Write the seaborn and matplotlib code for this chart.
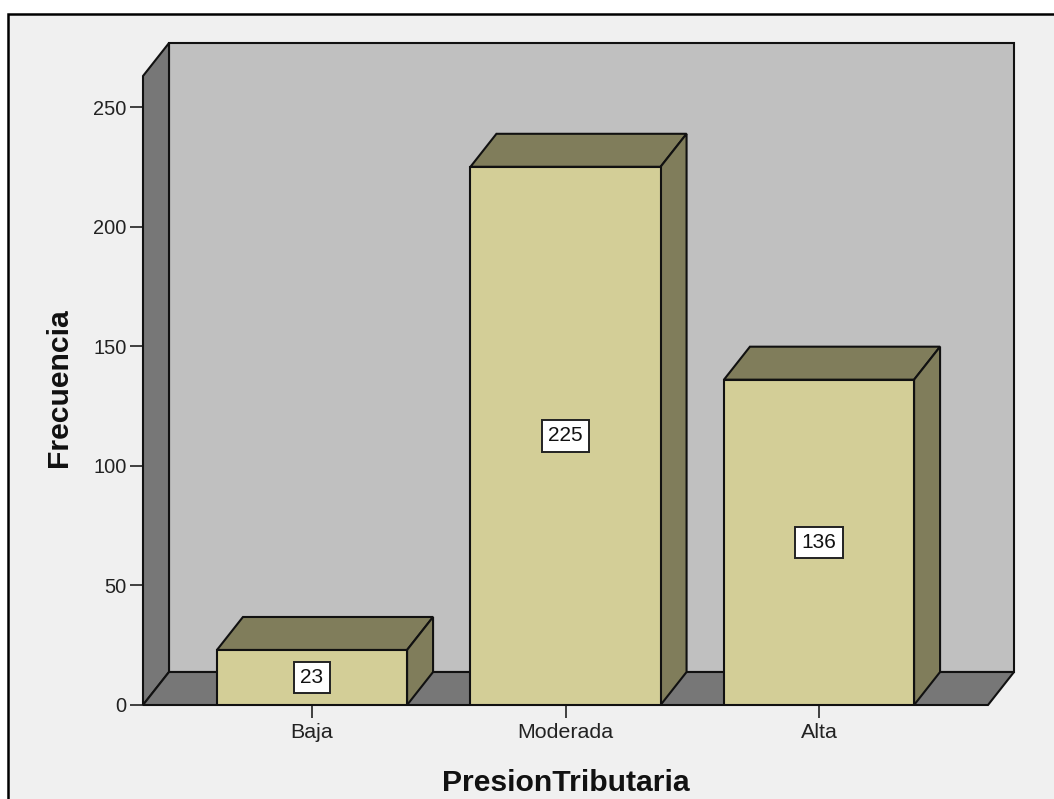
import matplotlib
matplotlib.use("Agg")
import matplotlib.pyplot as plt
from matplotlib.patches import Polygon, Rectangle
import pandas as pd
import seaborn as sns

categories = ["Baja", "Moderada", "Alta"]
frecuencia = [23, 225, 136]
y_ticks = [0, 50, 100, 150, 200, 250]

W, H = 1054, 799
LEFT, RIGHT, TOP, BASE = 143, 988, 76, 705
PX_PER_CAT = 253.5
PX_PER_UNIT = 598 / 250
DX = 26 / PX_PER_CAT
DY = 33 / PX_PER_UNIT
EDGE = "#111111"
LW = 1.5

sns.set_theme(style="white", font="Liberation Sans")
fig = plt.figure(figsize=(W / 100, H / 100), dpi=100, facecolor="white")
fig.add_artist(Rectangle((8 / W, 1 - 830 / H), 1060 / W, 816 / H, transform=fig.transFigure,
                         facecolor="#f0f0f0", edgecolor="black", linewidth=1.8, zorder=-1))
ax = fig.add_axes([LEFT / W, 1 - BASE / H, (RIGHT - LEFT) / W, (BASE - TOP) / H])
ax.patch.set_alpha(0)

df = pd.DataFrame({"PresionTributaria": categories, "Frecuencia": frecuencia})
sns.barplot(data=df, x="PresionTributaria", y="Frecuencia", ax=ax, width=0.75,
            color="#d3ce97", saturation=1, edgecolor=EDGE, linewidth=LW, zorder=5)

x0 = (312 - LEFT) / PX_PER_CAT
xmin, xmax = -x0, -x0 + (RIGHT - LEFT) / PX_PER_CAT
ymax = (BASE - TOP) / PX_PER_UNIT
ax.set_xlim(xmin, xmax)
ax.set_ylim(0, ymax)


def poly(pts, color, z):
    ax.add_patch(Polygon(pts, closed=True, facecolor=color, edgecolor=EDGE, linewidth=LW,
                         zorder=z, clip_on=False, joinstyle="miter"))


# Back wall, side wall and floor of the 3D frame
poly([(xmin + DX, DY), (xmax + DX, DY), (xmax + DX, ymax + DY), (xmin + DX, ymax + DY)], "#c0c0c0", 1)
poly([(xmin, 0), (xmin + DX, DY), (xmin + DX, ymax + DY), (xmin, ymax)], "#777777", 2)
poly([(xmin, 0), (xmax, 0), (xmax + DX, DY), (xmin + DX, DY)], "#777777", 2)

# Top and side faces of each bar, value labels
for i, v in enumerate(frecuencia):
    l, r = i - 0.375, i + 0.375
    poly([(l, v), (r, v), (r + DX, v + DY), (l + DX, v + DY)], "#807d5b", 4)
    poly([(r, 0), (r + DX, DY), (r + DX, v + DY), (r, v)], "#807d5b", 4)
    ax.text(i, v / 2, str(v), ha="center", va="center", fontsize=15, color="#111111", zorder=6,
            bbox=dict(boxstyle="square,pad=0.3", facecolor="white", edgecolor="#222222", linewidth=1.4))

sns.despine(ax=ax, left=True, bottom=True, right=True, top=True)
ax.set_yticks(y_ticks)
ax.tick_params(axis="y", left=True, length=9.4, width=1.2, color="#222222",
               labelsize=14.4, labelcolor="#222222", pad=2.4)
ax.tick_params(axis="x", bottom=True, length=9.4, width=1.2, color="#222222",
               labelsize=15.4, labelcolor="#222222", pad=3.7)
ax.set_xlabel("PresionTributaria", fontsize=21.7, fontweight="bold", color="#111111", labelpad=19.4)
ax.set_ylabel("Frecuencia", fontsize=21.7, fontweight="bold", color="#111111", labelpad=14.4, y=0.505)
fig.savefig("out.png", dpi=100, facecolor="white")
